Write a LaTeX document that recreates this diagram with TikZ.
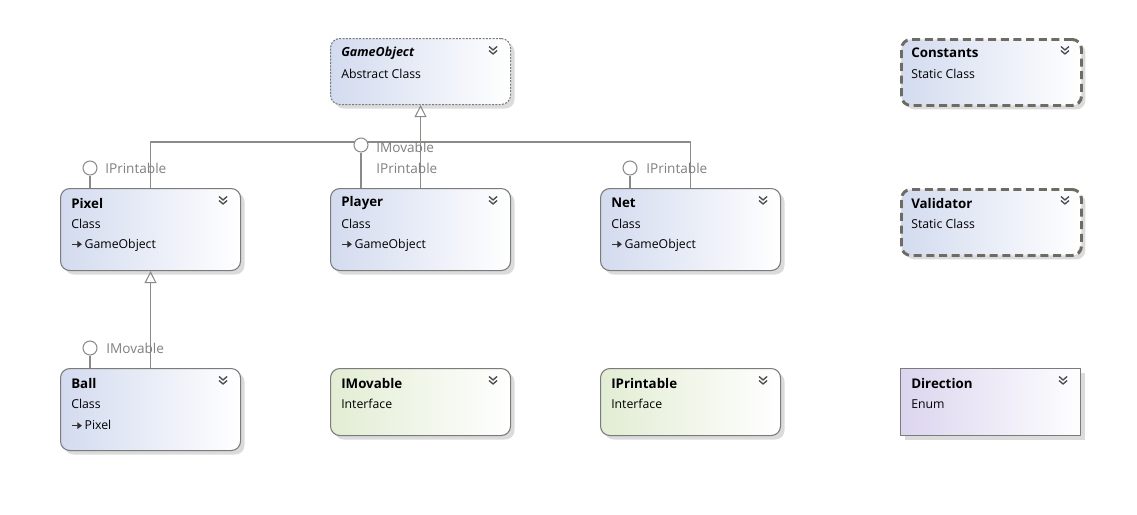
\documentclass[tikz,border=0pt]{standalone}
\usepackage{fontspec}
\setmainfont{Open Sans}
\usetikzlibrary{arrows.meta,positioning,shadows}
\definecolor{clsblue}{HTML}{D3DBEF}
\definecolor{ifgreen}{HTML}{E2EDD3}
\definecolor{enumlilac}{HTML}{DCD5EF}
\definecolor{edgegray}{HTML}{7B7B7B}
\definecolor{linegray}{HTML}{8A8A86}
\definecolor{labelgray}{HTML}{808080}
\definecolor{statgray}{HTML}{6E6B63}
\tikzset{
  box/.style={anchor=north west,inner sep=0pt,minimum width=135pt,rounded corners=7pt,
    draw=edgegray,line width=0.8pt,
    drop shadow={shadow xshift=3pt,shadow yshift=-3pt,fill=black!14,opacity=1}},
  classbox/.style={box,minimum height=61.5pt,left color=clsblue,right color=white},
  abstractbox/.style={box,minimum height=49.5pt,left color=clsblue,right color=white,
    dash pattern=on 1.5pt off 1pt},
  staticbox/.style={box,minimum height=49.5pt,left color=clsblue,right color=white,
    draw=statgray,line width=2.2pt,dash pattern=on 6pt off 3.5pt},
  ifacebox/.style={box,minimum height=50.25pt,left color=ifgreen,right color=white},
  enumbox/.style={box,minimum height=50.25pt,left color=enumlilac,right color=white!97!enumlilac,
    sharp corners},
  title/.style={anchor=west,inner sep=0pt,font=\bfseries\fontsize{10}{12}\selectfont},
  kind/.style={anchor=west,inner sep=0pt,font=\fontsize{9.2}{11}\selectfont},
  lab/.style={anchor=west,inner sep=0pt,text=labelgray,font=\fontsize{10.2}{12}\selectfont},
  lolli/.style={circle,draw=linegray,fill=white,line width=0.8pt,minimum size=10.5pt,inner sep=0pt},
  lnk/.style={draw=linegray,line width=0.8pt},
  gen/.style={lnk,-{Triangle[open,length=9pt,width=9pt]}},
  chevron/.pic={
    \draw[line width=1pt,black!70] (-4,-3.5) -- (0,0) -- (4,-3.5);
    \draw[line width=1pt,black!70] (-4,0.5) -- (0,4) -- (4,0.5);
  }
}
\newcommand{\inharrow}{\tikz[baseline=-0.6ex]\draw[line width=1pt,black!80,
  -{Triangle[length=3.5pt,width=5pt]}] (0,0) -- (7.5pt,0);\,}

\begin{document}
\begin{tikzpicture}[x=0.75pt,y=-0.75pt,line join=round]
\useasboundingbox (0,0) rectangle (1137,514);
% --- boxes
\node[abstractbox] (gameobject) at (330,38) {};
\node[staticbox] (constants) at (900,38) {};
\node[classbox] (pixel) at (60,188) {};
\node[classbox] (player) at (330,188) {};
\node[classbox] (net) at (600,188) {};
\node[staticbox] (validator) at (900,188) {};
\node[classbox] (ball) at (60,368) {};
\node[ifacebox] (imovable) at (330,368) {};
\node[ifacebox] (iprintable) at (600,368) {};
\node[enumbox] (direction) at (900,368) {};
% --- titles, kinds, bases
\node[title,font=\bfseries\itshape\fontsize{9.4}{12}\selectfont] (gameobjectT) at ([shift={(11,15)}]gameobject.north west) {GameObject};
\node[kind] (gameobjectK) at ([shift={(11,36)}]gameobject.north west) {Abstract Class};
\node[title] (constantsT) at ([shift={(11,15)}]constants.north west) {Constants};
\node[kind] (constantsK) at ([shift={(11,36)}]constants.north west) {Static Class};
\node[title] (pixelT) at ([shift={(11,15)}]pixel.north west) {Pixel};
\node[kind] (pixelK) at ([shift={(11,36)}]pixel.north west) {Class};
\node[kind] (pixelB) at ([shift={(11,57)}]pixel.north west) {\inharrow GameObject};
\node[title] (playerT) at ([shift={(11,15)}]player.north west) {Player};
\node[kind] (playerK) at ([shift={(11,36)}]player.north west) {Class};
\node[kind] (playerB) at ([shift={(11,57)}]player.north west) {\inharrow GameObject};
\node[title] (netT) at ([shift={(11,15)}]net.north west) {Net};
\node[kind] (netK) at ([shift={(11,36)}]net.north west) {Class};
\node[kind] (netB) at ([shift={(11,57)}]net.north west) {\inharrow GameObject};
\node[title] (validatorT) at ([shift={(11,15)}]validator.north west) {Validator};
\node[kind] (validatorK) at ([shift={(11,36)}]validator.north west) {Static Class};
\node[title] (ballT) at ([shift={(11,15)}]ball.north west) {Ball};
\node[kind] (ballK) at ([shift={(11,36)}]ball.north west) {Class};
\node[kind] (ballB) at ([shift={(11,57)}]ball.north west) {\inharrow Pixel};
\node[title] (imovableT) at ([shift={(11,15)}]imovable.north west) {IMovable};
\node[kind] (imovableK) at ([shift={(11,36)}]imovable.north west) {Interface};
\node[title] (iprintableT) at ([shift={(11,15)}]iprintable.north west) {IPrintable};
\node[kind] (iprintableK) at ([shift={(11,36)}]iprintable.north west) {Interface};
\node[title] (directionT) at ([shift={(11,15)}]direction.north west) {Direction};
\node[kind] (directionK) at ([shift={(11,36)}]direction.north west) {Enum};
% --- collapse chevrons
\foreach \b in {gameobject,constants,pixel,player,net,validator,ball,imovable,iprintable,direction}
  \pic at ([shift={(-18,12)}]\b.north east) {chevron};
% --- inheritance
\coordinate (bus) at (420,142);
\draw[lnk] (pixel.north) |- (net.north |- bus) -- (net.north);
\draw[gen] (player.north) -- (gameobject.south);
\draw[gen] (ball.north) -- (pixel.south);
% --- interface lollipops
\node[lolli] (pixelIP) at (90,168) {};
\node[lolli] (playerIF) at (361,145) {};
\node[lolli] (netIP) at (630,168) {};
\node[lolli] (ballIM) at (90,348) {};
\draw[lnk] (pixelIP) -- (pixelIP |- pixel.north);
\draw[lnk] (playerIF) -- (playerIF |- player.north);
\draw[lnk] (netIP) -- (netIP |- net.north);
\draw[lnk] (ballIM) -- (ballIM |- ball.north);
\node[lab] (pixelIPL) at (105,168) {IPrintable};
\node[lab] (playerIML) at (376,147) {IMovable};
\node[lab] (playerIPL) at (376,168) {IPrintable};
\node[lab] (netIPL) at (646,168) {IPrintable};
\node[lab] (ballIML) at (106,348) {IMovable};
\end{tikzpicture}
\end{document}
